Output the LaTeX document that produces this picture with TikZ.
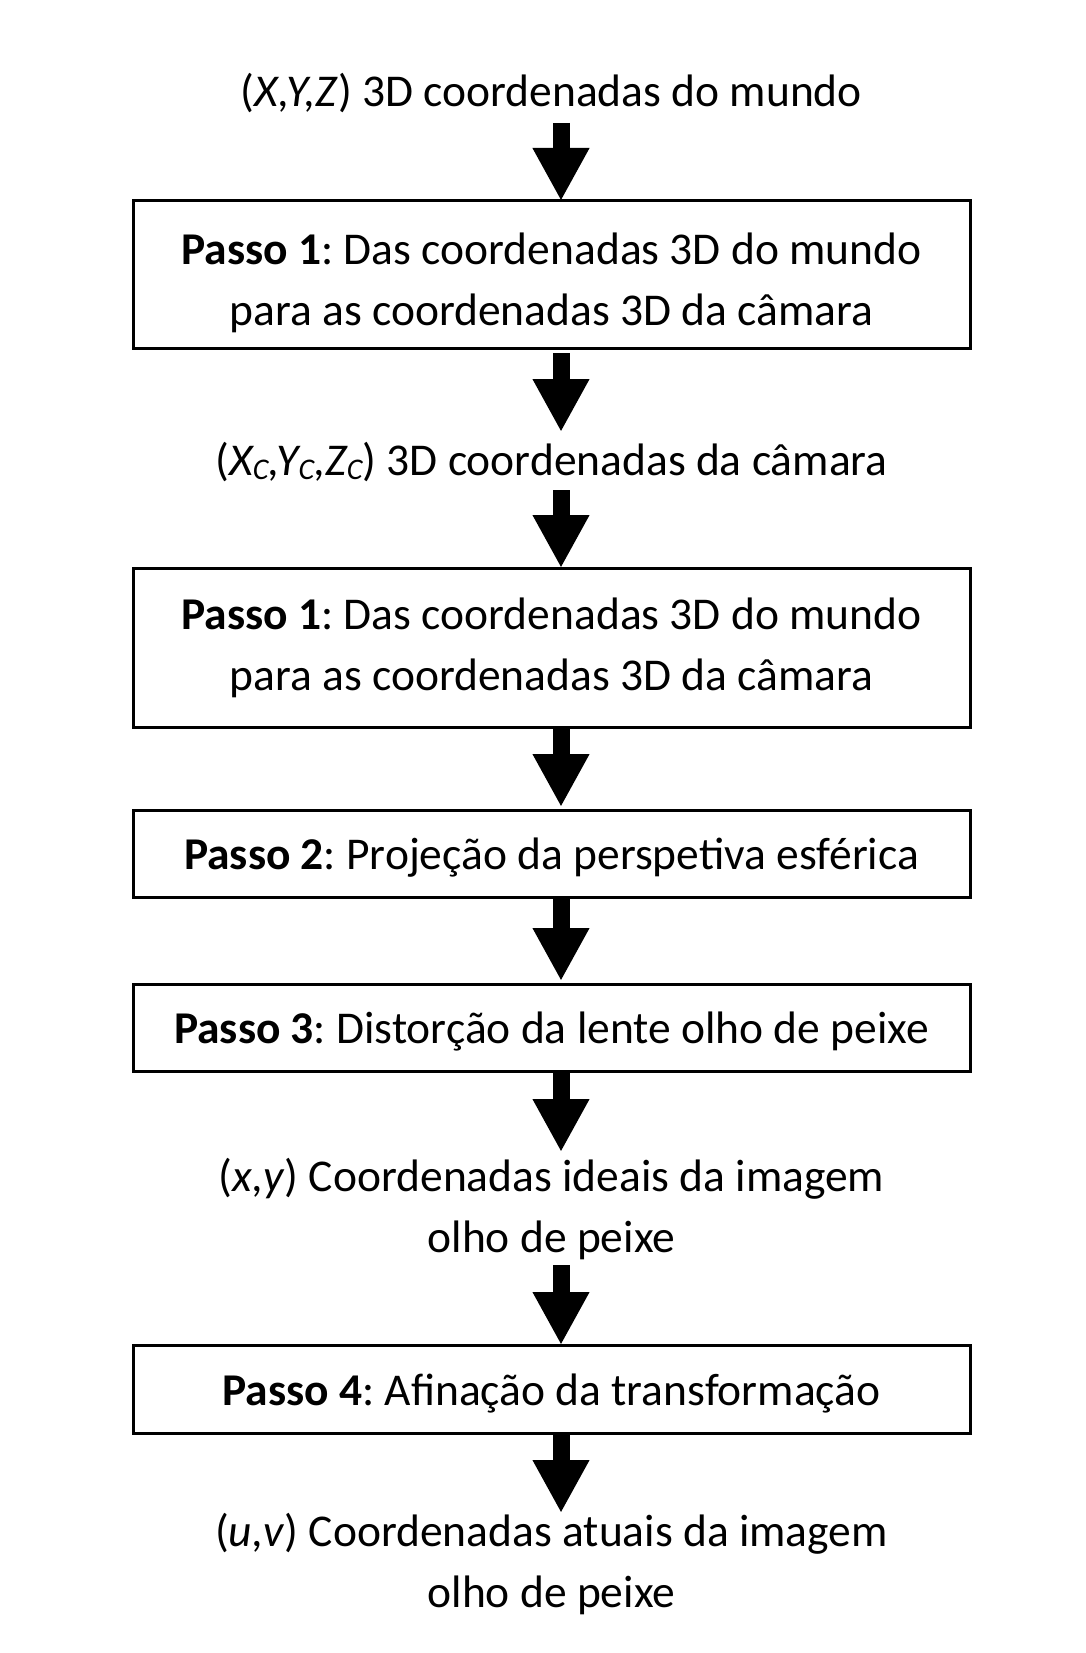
\documentclass[tikz,border=0pt]{standalone}
\usepackage{fontspec}
\setmainfont{Carlito}
\frenchspacing
\usetikzlibrary{arrows.meta}
\begin{document}
\begin{tikzpicture}[x=1pt,y=-1pt,
  every node/.style={font=\fontsize{45.5}{61}\selectfont, inner sep=0pt, outer sep=0pt},
  stepbox/.style={draw, line width=3pt, minimum width=837pt, align=center},
  onebox/.style={stepbox, text height=36pt, text depth=4pt},
  lab/.style={align=center, anchor=base},
  bigarrow/.style={line width=17pt, -{Triangle[width=53pt,length=53pt]}}]
\useasboundingbox[fill=white] (0,0) rectangle (1085,1653);

\node[lab] (t0) at (551.5,107) {(\textit{X,Y,Z}) 3D coordenadas do mundo};
\node[stepbox, minimum height=147pt, text height=106pt, text depth=5pt] (b1) at (551.5,274.5)
  {\textbf{Passo 1}: Das coordenadas 3D do mundo\\para as coordenadas 3D da câmara};
\node[lab] (l2) at (551.5,475)
  {(\textit{X\raisebox{-4pt}{\fontsize{30}{30}\selectfont C},Y\raisebox{-4pt}{\fontsize{30}{30}\selectfont C},Z\raisebox{-4pt}{\fontsize{30}{30}\selectfont C}}) 3D coordenadas da câmara};
\node[stepbox, minimum height=159pt, text height=90pt, text depth=5pt] (b2) at (551.5,647.5)
  {\textbf{Passo 1}: Das coordenadas 3D do mundo\\para as coordenadas 3D da câmara};
\node[onebox, minimum height=87pt] (b3) at (551.5,853.5)
  {\textbf{Passo 2}: Projeção da perspetiva esférica};
\node[onebox, minimum height=87pt] (b4) at (551.5,1027.5)
  {\textbf{Passo 3}: Distorção da lente olho de peixe};
\node[lab] (l3) at (551.5,1252)
  {(\textit{x,y}) Coordenadas ideais da imagem\\olho de peixe};
\node[onebox, minimum height=88pt] (b5) at (551.5,1389)
  {\textbf{Passo 4}: Afinação da transformação};
\node[lab] (l4) at (551.5,1607)
  {(\textit{u,v}) Coordenadas atuais da imagem\\olho de peixe};

\draw[bigarrow] ([xshift=9.5pt,yshift=-16pt]t0.base) -- ([xshift=9.5pt]b1.north);
\draw[bigarrow] ([xshift=9.5pt,yshift=-5pt]b1.south) -- ([xshift=9.5pt,yshift=43pt]l2.base);
\draw[bigarrow] ([xshift=9.5pt,yshift=-15pt]l2.base) -- ([xshift=9.5pt]b2.north);
\draw[bigarrow] ([xshift=9.5pt]b2.south) -- ([xshift=9.5pt,yshift=3pt]b3.north);
\draw[bigarrow] ([xshift=9.5pt]b3.south) -- ([xshift=9.5pt,yshift=3pt]b4.north);
\draw[bigarrow] ([xshift=9.5pt,yshift=-2pt]b4.south) -- ([xshift=9.5pt,yshift=100pt]l3.base);
\draw[bigarrow] ([xshift=9.5pt,yshift=-13pt]l3.base) -- ([xshift=9.5pt]b5.north);
\draw[bigarrow] ([xshift=9.5pt,yshift=-1pt]b5.south) -- ([xshift=9.5pt,yshift=94pt]l4.base);
\end{tikzpicture}
\end{document}
